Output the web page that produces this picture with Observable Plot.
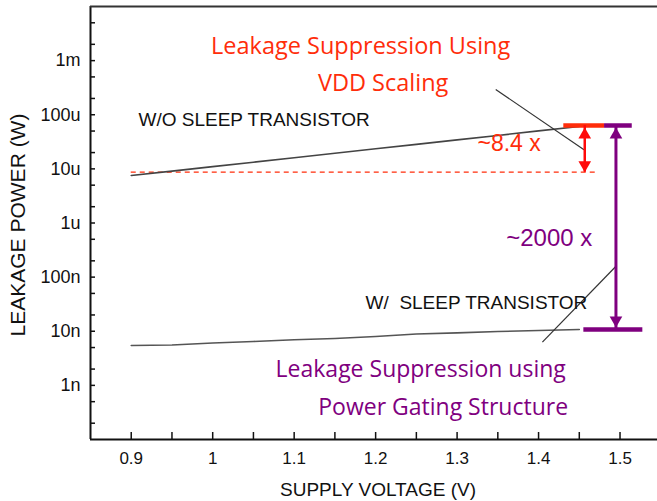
<!DOCTYPE html>
<html><head><meta charset="utf-8">
<script src="https://cdn.jsdelivr.net/npm/d3@7"></script>
<script src="https://cdn.jsdelivr.net/npm/@observablehq/plot@0.6"></script>
<style>
html,body{margin:0;padding:0;background:#fff;}
</style></head><body><div id="chart"></div>
<script>
// ---- data ----
const voltage = [0.90, 0.95, 1.00, 1.05, 1.10, 1.15, 1.20, 1.25, 1.30, 1.35, 1.40, 1.45];
const powerWithoutSleep = [7.55e-6, 9.1e-6, 1.10e-5, 1.33e-5, 1.61e-5, 1.95e-5, 2.35e-5, 2.84e-5, 3.44e-5, 4.15e-5, 5.03e-5, 6.07e-5];
const powerWithSleep = [5.46e-9, 5.57e-9, 6.07e-9, 6.47e-9, 6.95e-9, 7.35e-9, 8.0e-9, 8.89e-9, 9.35e-9, 9.89e-9, 1.03e-8, 1.08e-8];

const xTickValues = [0.9, 1.0, 1.1, 1.2, 1.3, 1.4, 1.5];
const xTickLabels = ["0.9", "1", "1.1", "1.2", "1.3", "1.4", "1.5"];
const xMinorTicks = [0.95, 1.05, 1.15, 1.25, 1.35, 1.45];
const yTickValues = [1e-9, 1e-8, 1e-7, 1e-6, 1e-5, 1e-4, 1e-3];
const yTickLabels = ["1n", "10n", "100n", "1u", "10u", "100u", "1m"];
const yMinorTicks = [2e-10, 5e-10, 2e-9, 5e-9, 2e-8, 5e-8, 2e-7, 5e-7, 2e-6, 5e-6, 2e-5, 5e-5, 2e-4, 5e-4, 2e-3, 5e-3];

const xDomain = [0.85, 1.546];
const yDomain = [1e-10, 1e-2];

// reference levels and annotation geometry (data units)
const refLevel = 8.68e-6;            // dashed line level
const refRange = [0.9, 1.474];
const topLevel = 6.33e-5;            // level of the top bars
const bottomLevel = 1.077e-8;        // level of the bottom bar
const redBarRange = [1.431, 1.481];
const purpleTopBarRange = [1.481, 1.515];
const purpleBottomBarRange = [1.4556, 1.528];
const redArrowX = 1.4567;
const purpleArrowX = 1.495;
const leaderLines = [
  {x1: 1.3474, y1: 2.93e-4, x2: 1.4558, y2: 2.25e-5},
  {x1: 1.4959, y1: 1.64e-7, x2: 1.4047, y2: 6.28e-9}
];
const redNotes = [
  {text: "Leakage Suppression Using", x: 1.1816, y: 1.86e-3},
  {text: "VDD Scaling", x: 1.2092, y: 3.78e-4}
];
const redFactor = [{text: "~8.4 x", x: 1.3639, y: 2.90e-5}];
const purpleFactor = [{text: "~2000 x", x: 1.4131, y: 5.17e-7}];
const purpleNotes = [
  {text: "Leakage Suppression using", x: 1.2553, y: 1.96e-9},
  {text: "Power Gating Structure", x: 1.2829, y: 3.95e-10}
];
const seriesLabels = [
  {text: "W/O SLEEP TRANSISTOR", x: 0.9089, y: 7.93e-5},
  {text: "W/\u00a0 SLEEP TRANSISTOR", x: 1.1877, y: 3.33e-8}
];
const xTitle = "SUPPLY VOLTAGE (V)";
const yTitle = "LEAKAGE POWER (W)";

// ---- layout & style ----
const W = 657, H = 501, mL = 90, mT = 6, mB = 62, mR = 0;
const innerW = W - mL - mR, innerH = H - mT - mB;
const RED = "#ff2d0a", ARROW_RED = "#ff0a0a", PURPLE = "#7f007f", INK = "#111";
const headR = 4.7;
const headTip = 2 * Math.sqrt(headR * headR * Math.PI / (3 * Math.sqrt(3)));
const sans = "Liberation Sans, Arial, Helvetica, sans-serif";
const handFont = "Open Sans, Noto Sans, sans-serif";

// inward tick lengths expressed in data units of each scale
const xTickLen = 7, yTickLen = 5;
const pxPerDecade = innerH / Math.log10(yDomain[1] / yDomain[0]);
const xTickTop = yDomain[0] * Math.pow(10, xTickLen / pxPerDecade);
const yTickRight = xDomain[0] + yTickLen * (xDomain[1] - xDomain[0]) / innerW;
const yMid = Math.sqrt(yDomain[0] * yDomain[1]);
const xMid = (xDomain[0] + xDomain[1]) / 2;

const upper = voltage.map((v, i) => ({v, p: powerWithoutSleep[i]}));
const lower = voltage.map((v, i) => ({v, p: powerWithSleep[i]}));
const xLabel = new Map(xTickValues.map((d, i) => [d, xTickLabels[i]]));
const yLabel = new Map(yTickValues.map((d, i) => [d, yTickLabels[i]]));

const chart = Plot.plot({
  width: W, height: H,
  marginLeft: mL, marginTop: mT, marginBottom: mB, marginRight: mR,
  x: {domain: xDomain},
  y: {type: "log", domain: yDomain},
  style: {fontFamily: sans, background: "#fff", color: INK},
  marks: [
    Plot.axisX({ticks: xTickValues, tickSize: 0, tickPadding: 12, tickFormat: d => xLabel.get(d), fontSize: 17, label: null}),
    Plot.axisY({ticks: yTickValues, tickSize: 0, tickPadding: 10, tickFormat: d => yLabel.get(d), fontSize: 18, label: null}),
    // inward ticks
    Plot.ruleX(xTickValues.concat(xMinorTicks), {x: d => d, y1: yDomain[0], y2: xTickTop, stroke: INK, strokeWidth: 1.5}),
    Plot.ruleY(yTickValues.concat(yMinorTicks), {y: d => d, x1: xDomain[0], x2: yTickRight, stroke: INK, strokeWidth: 1.5}),
    // frame
    Plot.ruleX([xDomain[0]], {stroke: INK, strokeWidth: 2}),
    Plot.ruleY([yDomain[0]], {stroke: INK, strokeWidth: 2}),
    Plot.ruleY([yDomain[1]], {stroke: "#333", strokeWidth: 2}),
    // axis titles
    Plot.text([xTitle], {x: xMid, y: yDomain[0], dx: 4, dy: 50, fontSize: 19, fill: INK, lineAnchor: "middle"}),
    Plot.text([yTitle], {x: xDomain[0], y: yMid, dx: -72, dy: 2, rotate: -90, textAnchor: "middle", fontSize: 21, fill: INK, lineAnchor: "middle"}),
    // dashed reference
    Plot.ruleY([refLevel], {x1: refRange[0], x2: refRange[1], stroke: RED, strokeWidth: 1.3, strokeDasharray: "5,4"}),
    // series
    Plot.line(upper, {x: "v", y: "p", stroke: "#444", strokeWidth: 1.6}),
    Plot.line(lower, {x: "v", y: "p", stroke: "#555", strokeWidth: 1.6}),
    // leader lines
    Plot.link(leaderLines, {x1: "x1", y1: "y1", x2: "x2", y2: "y2", stroke: "#333", strokeWidth: 1.2}),
    // bars
    Plot.ruleY([topLevel], {x1: redBarRange[0], x2: redBarRange[1], stroke: RED, strokeWidth: 4.5}),
    Plot.ruleY([topLevel], {x1: purpleTopBarRange[0], x2: purpleTopBarRange[1], stroke: PURPLE, strokeWidth: 4.5}),
    Plot.ruleY([bottomLevel], {x1: purpleBottomBarRange[0], x2: purpleBottomBarRange[1], stroke: PURPLE, strokeWidth: 4.5}),
    // arrows
    Plot.ruleX([redArrowX], {y1: topLevel, y2: refLevel, stroke: ARROW_RED, strokeWidth: 2.5}),
    Plot.dot([{x: redArrowX, y: topLevel}], {x: "x", y: "y", symbol: "triangle", r: headR, fill: ARROW_RED, dy: headTip + 2}),
    Plot.dot([{x: redArrowX, y: refLevel}], {x: "x", y: "y", symbol: "triangle", r: headR, fill: ARROW_RED, rotate: 180, dy: -headTip}),
    Plot.ruleX([purpleArrowX], {y1: topLevel, y2: bottomLevel, stroke: PURPLE, strokeWidth: 3}),
    Plot.dot([{x: purpleArrowX, y: topLevel}], {x: "x", y: "y", symbol: "triangle", r: headR, fill: PURPLE, dy: headTip + 2}),
    Plot.dot([{x: purpleArrowX, y: bottomLevel}], {x: "x", y: "y", symbol: "triangle", r: headR, fill: PURPLE, rotate: 180, dy: -headTip - 2}),
    // annotations
    Plot.text(seriesLabels, {x: "x", y: "y", text: "text", textAnchor: "start", fontSize: 19, fill: INK, lineAnchor: "middle"}),
    Plot.text(redNotes, {x: "x", y: "y", text: "text", fontSize: 23.5, fontFamily: handFont, fill: RED, lineAnchor: "middle"}),
    Plot.text(purpleNotes, {x: "x", y: "y", text: "text", fontSize: 23, fontFamily: handFont, fill: PURPLE, lineAnchor: "middle"}),
    Plot.text(redFactor, {x: "x", y: "y", text: "text", fontSize: 23, fill: RED, lineAnchor: "middle"}),
    Plot.text(purpleFactor, {x: "x", y: "y", text: "text", fontSize: 24, fill: PURPLE, lineAnchor: "middle"})
  ]
});
document.getElementById("chart").appendChild(chart);
</script>
</body></html>
